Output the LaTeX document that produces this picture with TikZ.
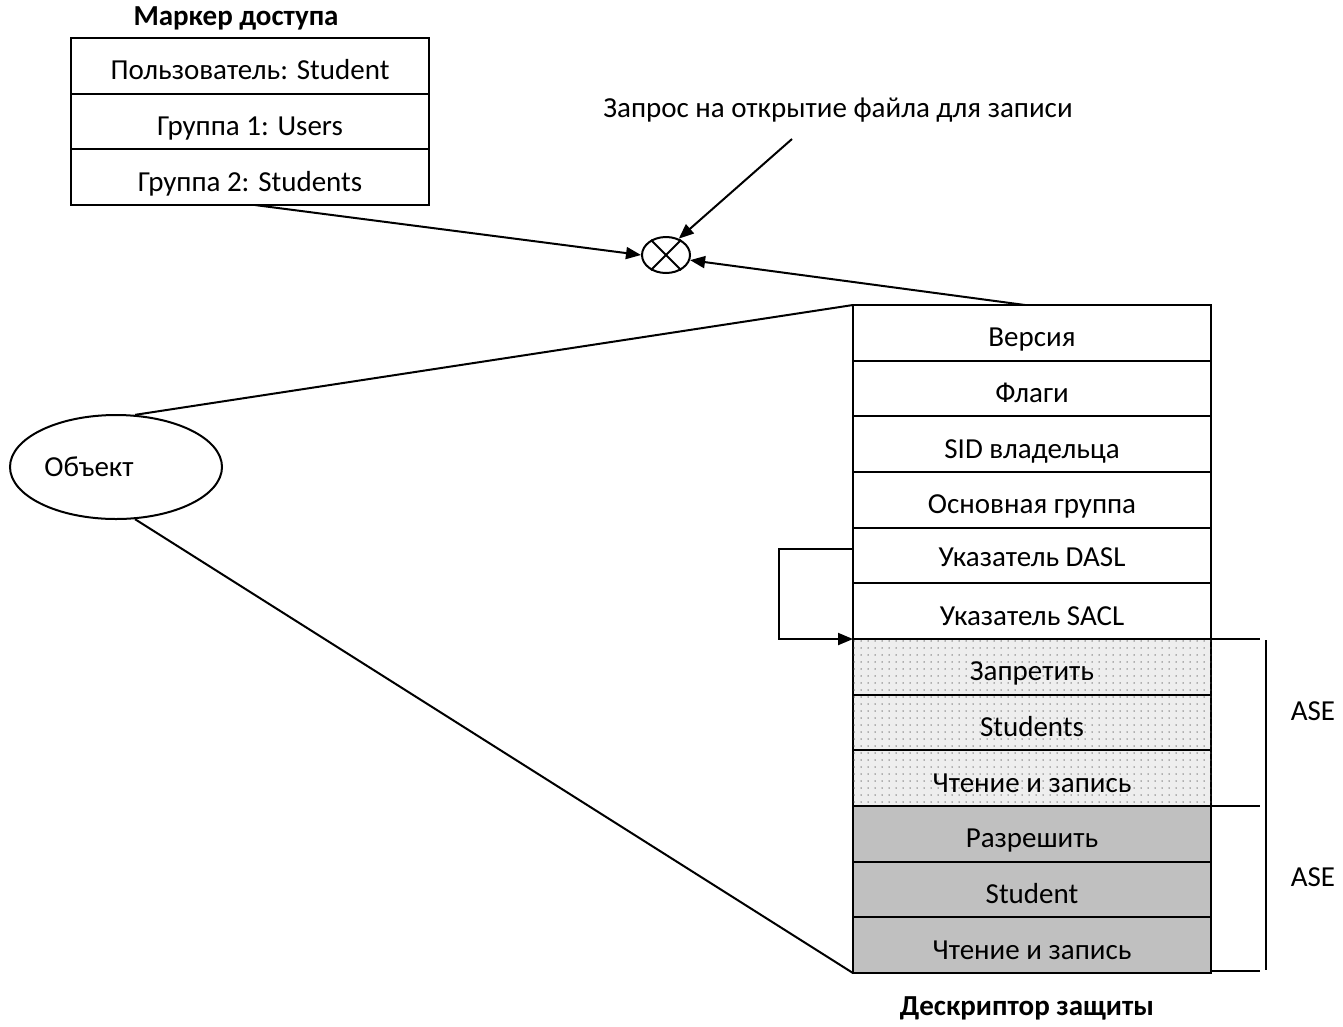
\documentclass[tikz,border=0pt]{standalone}
\usepackage{fontspec}
\setmainfont{Carlito}
\usetikzlibrary{shapes.geometric,arrows.meta,patterns.meta}
\definecolor{dotbg}{HTML}{EEEEEE}
\definecolor{dotfg}{HTML}{6E6E6E}
\definecolor{grantbg}{HTML}{C0C0C0}
\begin{document}
\begin{tikzpicture}[x=1pt,y=-1pt,
  line/.style={line width=2pt},
  arr/.style={line, -{Triangle[length=15pt,width=12pt]}},
  cell/.style={draw, line width=2pt, rectangle, minimum width=358pt, minimum height=55.67pt,
               outer sep=0pt, inner sep=0pt, text height=28pt, text depth=0pt, font=\fontsize{29}{34}\selectfont},
  denycell/.style={cell, fill=dotbg, postaction={pattern={Dots[distance=7pt,radius=0.75pt]}, pattern color=dotfg}},
  grantcell/.style={cell, fill=grantbg},
  lbl/.style={font=\fontsize{29}{34}\selectfont, inner sep=0pt},
  title/.style={font=\fontsize{29}{34}\selectfont\bfseries, inner sep=0pt}
]
\useasboundingbox (0,0) rectangle (1343,1026);

% access token
\node[title] (mtitle) at (236,18) {Маркер доступа};
\node[cell] (m1) at (250,65.8) {Пользователь: Student};
\node[cell] (m2) at (250,121.5) {Группа 1: Users};
\node[cell] (m3) at (250,177.2) {Группа 2: Students};

% check operator
\node[draw, line, ellipse, minimum width=48pt, minimum height=36pt, inner sep=0pt] (chk) at (666,255) {};
\draw[line] (chk.45) -- (chk.225);
\draw[line] (chk.135) -- (chk.-45);

% request
\node[lbl] (req) at (838,110) {Запрос на открытие файла для записи};
\coordinate (reqfoot) at (792,139);

% security descriptor
\foreach \i/\t in {1/Версия,2/Флаги,3/SID владельца,4/Основная группа,6/Указатель SACL}{
  \node[cell] (r\i) at (1032,{305+55.67*(\i-0.5)}) {\t};
}
\node[cell, text height=22pt] (r5) at (1032,{305+55.67*4.5}) {Указатель DASL};
\node[denycell] (r7) at (1032,{305+55.67*6.5}) {Запретить};
\node[denycell] (r8) at (1032,{305+55.67*7.5}) {Students};
\node[denycell] (r9) at (1032,{305+55.67*8.5}) {Чтение и запись};
\node[grantcell] (r10) at (1032,{305+55.67*9.5}) {Разрешить};
\node[grantcell] (r11) at (1032,{305+55.67*10.5}) {Student};
\node[grantcell] (r12) at (1032,{305+55.67*11.5}) {Чтение и запись};
\node[title] (sdtitle) at (1027,1008) {Дескриптор защиты};

% object
\node[draw, line, ellipse, minimum width=212pt, minimum height=104pt, inner sep=0pt] (obj) at (116,467) {};
\node[lbl] (objlabel) at (89,467) {Объект};
\draw[line] (obj.70) -- (r1.north west);
\draw[line] (obj.-70) -- (r12.south west);

% arrows into the check
\draw[arr] ([xshift=5pt]m3.south) -- (chk.west);
\draw[arr] (reqfoot) -- (chk.52);
\draw[arr] ([xshift=-7pt]r1.north) -- (chk.-12);

% DASL pointer
\draw[arr] ([yshift=7pt]r5.west) -- ++(-74,0) |- (r7.north west);

% ASE brackets
\coordinate (b1) at (1266,640);
\coordinate (b2) at (1266,970);
\draw[line] (r7.north east) -- ++(49,0);
\draw[line] (r10.north east) -- ++(49,0);
\draw[line] ([yshift=2pt]r12.south east) -- ++(49,0);
\draw[line] (b1) -- (b2);
\node[lbl] (ase1) at (1313,711) {ASE};
\node[lbl] (ase2) at (1313,877) {ASE};
\end{tikzpicture}
\end{document}
